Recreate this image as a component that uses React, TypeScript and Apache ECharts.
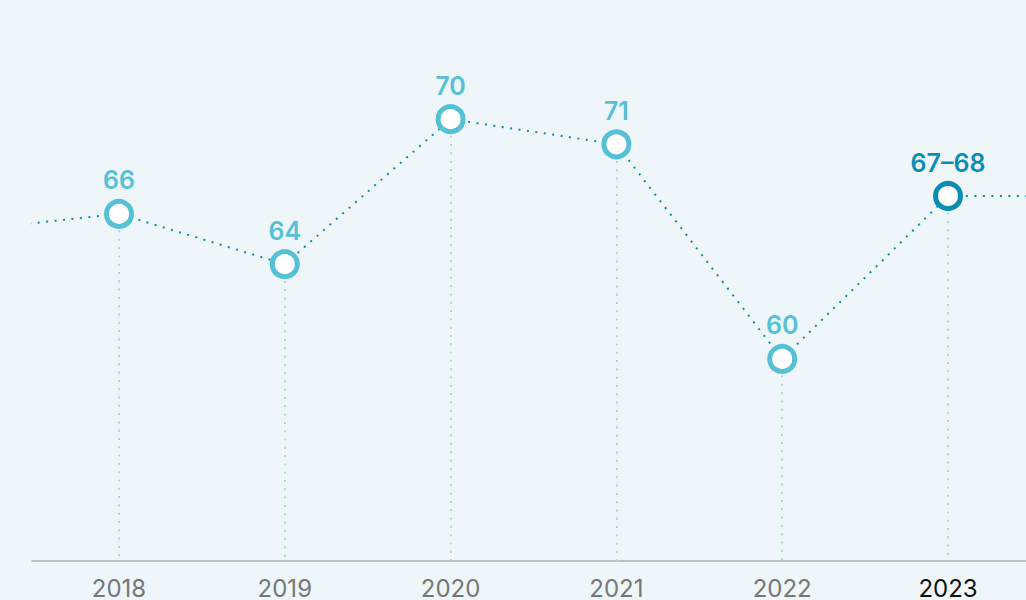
import React, { useEffect, useRef } from "react";
import * as echarts from "echarts";

// Years (2017 and 2024 lie just outside the visible range; the line runs off the edges)
const years = [2017, 2018, 2019, 2020, 2021, 2022, 2023, 2024];
// Plotted positions
const values = [65.26, 66, 63.92, 69.92, 68.88, 60, 66.74, 66.74];
// Labels shown above each point
const pointLabels = ["", "66", "64", "70", "71", "60", "67–68", ""];
// Tick labels on the x axis
const tickYears = [2018, 2019, 2020, 2021, 2022, 2023];
const highlightYear = 2023;

const X_MIN = 2017.4753;
const X_MAX = 2023.4704;
const Y_MIN = 51.64;
const Y_MAX = 74.85;

const LIGHT = "#56c0d5";
const DARK = "#0a8db5";
const LINE = "#1289b3";
const FONT = "Inter, 'Liberation Sans', sans-serif";

export default function App() {
  const ref = useRef<HTMLDivElement>(null);
  useEffect(() => {
    if (!ref.current) return;
    const chart = echarts.init(ref.current, null, { renderer: "svg" });
    const data = years.map((y, i) => {
      const visible = pointLabels[i] !== "";
      const hi = y === highlightYear;
      return {
        value: [y, values[i]],
        symbol: visible ? "circle" : "none",
        itemStyle: { color: "#ffffff", borderColor: hi ? DARK : LIGHT, borderWidth: 5 },
        label: {
          show: visible,
          formatter: pointLabels[i],
          color: hi ? DARK : LIGHT,
        },
      };
    });
    const markData = years
      .map((y, i) => ({ y, i }))
      .filter((d) => pointLabels[d.i] !== "")
      .map((d) => [
        { coord: [d.y, values[d.i]], symbol: "none" },
        { coord: [d.y, Y_MIN], symbol: "none" },
      ]);
    chart.setOption({
      animation: false,
      backgroundColor: "#eef6f9",
      grid: { left: 32, right: 0, top: 0, bottom: 39, containLabel: false },
      xAxis: {
        type: "value",
        min: X_MIN,
        max: X_MAX,
        splitLine: { show: false },
        axisLine: { show: true, lineStyle: { color: "#a9b0b3", width: 1.5 } },
        axisTick: { show: false },
        axisLabel: {
          customValues: tickYears,
          formatter: (v: number) => String(Math.round(v)),
          fontFamily: FONT,
          fontSize: 24,
          margin: 15,
          color: (v: number) => (Math.round(Number(v)) === highlightYear ? "#111111" : "#777777"),
        },
      },
      yAxis: {
        type: "value",
        min: Y_MIN,
        max: Y_MAX,
        show: false,
      },
      series: [
        {
          type: "line",
          data,
          clip: true,
          symbolSize: 25,
          showAllSymbol: true,
          lineStyle: { color: LINE, width: 2, type: [2, 6.5] },
          label: {
            show: true,
            position: "top",
            distance: 6,
            fontFamily: FONT,
            fontSize: 25,
            fontWeight: 600,
          },
          z: 3,
          markLine: {
            silent: true,
            symbol: "none",
            label: { show: false },
            lineStyle: { color: "#a6d9e6", width: 2, type: [2, 6.3] },
            data: markData,
            z: 1,
          },
        },
      ],
    });
    return () => chart.dispose();
  }, []);
  return <div ref={ref} style={{ width: 1026, height: 600, position: "fixed", left: 0, top: 0 }} />;
}
